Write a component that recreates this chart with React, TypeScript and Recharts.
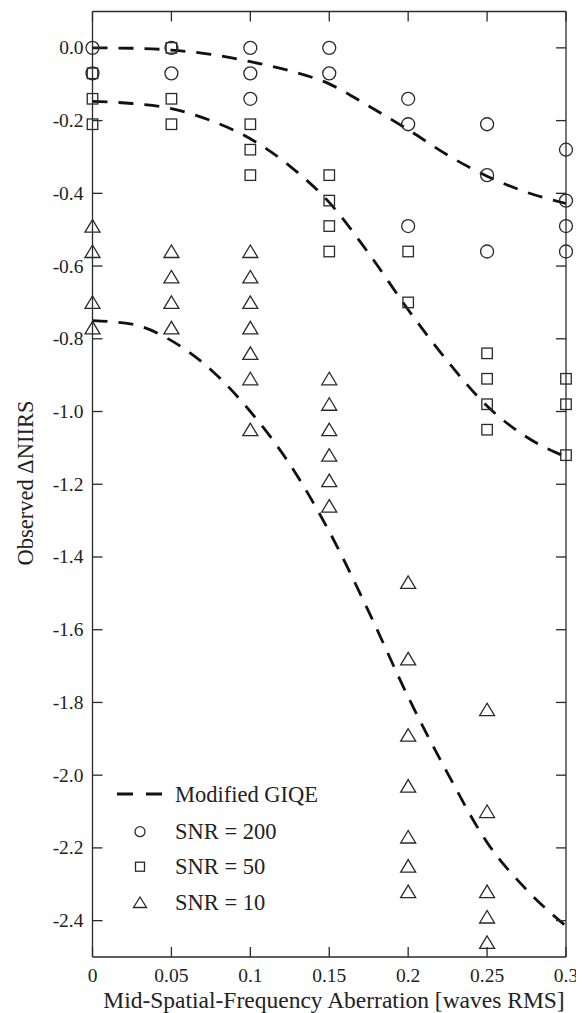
import React from "react";
import {
  ComposedChart,
  XAxis,
  YAxis,
  Scatter,
  Line,
  Legend,
} from "recharts";

// ---------- data ----------
const xTicks = [0, 0.05, 0.1, 0.15, 0.2, 0.25, 0.3];
const xTickLabels = ["0", "0.05", "0.1", "0.15", "0.2", "0.25", "0.3"];
const yTicks = [0, -0.2, -0.4, -0.6, -0.8, -1.0, -1.2, -1.4, -1.6, -1.8, -2.0, -2.2, -2.4];

const snr200Points: [number, number][] = [
  [0, 0], [0, -0.07],
  [0.05, 0], [0.05, -0.07],
  [0.1, 0], [0.1, -0.07], [0.1, -0.14],
  [0.15, 0], [0.15, -0.07],
  [0.2, -0.14], [0.2, -0.21], [0.2, -0.49],
  [0.25, -0.21], [0.25, -0.35], [0.25, -0.56],
  [0.3, -0.28], [0.3, -0.42], [0.3, -0.49], [0.3, -0.56],
];

const snr50Points: [number, number][] = [
  [0, -0.07], [0, -0.14], [0, -0.21],
  [0.05, 0], [0.05, -0.14], [0.05, -0.21],
  [0.1, -0.21], [0.1, -0.28], [0.1, -0.35],
  [0.15, -0.35], [0.15, -0.42], [0.15, -0.49], [0.15, -0.56],
  [0.2, -0.56], [0.2, -0.7],
  [0.25, -0.84], [0.25, -0.91], [0.25, -0.98], [0.25, -1.05],
  [0.3, -0.91], [0.3, -0.98], [0.3, -1.12],
];

const snr10Points: [number, number][] = [
  [0, -0.49], [0, -0.56], [0, -0.7], [0, -0.77],
  [0.05, -0.56], [0.05, -0.63], [0.05, -0.7], [0.05, -0.77],
  [0.1, -0.56], [0.1, -0.63], [0.1, -0.7], [0.1, -0.77], [0.1, -0.84], [0.1, -0.91], [0.1, -1.05],
  [0.15, -0.91], [0.15, -0.98], [0.15, -1.05], [0.15, -1.12], [0.15, -1.19], [0.15, -1.26],
  [0.2, -1.47], [0.2, -1.68], [0.2, -1.89], [0.2, -2.03], [0.2, -2.17], [0.2, -2.25], [0.2, -2.32],
  [0.25, -1.82], [0.25, -2.1], [0.25, -2.32], [0.25, -2.39], [0.25, -2.46],
];

const curveX = [0, 0.025, 0.05, 0.075, 0.1, 0.125, 0.15, 0.175, 0.2, 0.225, 0.25, 0.275, 0.3];
const giqe200 = [0, -0.001, -0.006, -0.018, -0.038, -0.063, -0.099, -0.16, -0.225, -0.295, -0.353, -0.397, -0.428];
const giqe50 = [-0.147, -0.153, -0.167, -0.2, -0.25, -0.325, -0.425, -0.565, -0.72, -0.862, -0.985, -1.07, -1.125];
const giqe10 = [-0.75, -0.76, -0.805, -0.885, -1.0, -1.145, -1.33, -1.55, -1.785, -1.995, -2.185, -2.315, -2.415];

const legendLabels = ["Modified GIQE", "SNR = 200", "SNR = 50", "SNR = 10"];

// ---------- helpers ----------
const toXY = (pts: [number, number][]) => pts.map(([x, y]) => ({ x, y }));
const toCurve = (ys: number[]) => curveX.map((x, i) => ({ x, y: ys[i] }));

const FONT = "'Liberation Serif', 'Times New Roman', serif";
const INK = "#2a2a2a";
const TICK_LEN = 10;

const CircleShape = (p: any) => (
  <circle cx={p.cx} cy={p.cy} r={6.5} fill="none" stroke={INK} strokeWidth={1.3} />
);
const SquareShape = (p: any) => (
  <rect x={p.cx - 5.25} y={p.cy - 5.25} width={10.5} height={10.5} fill="none" stroke={INK} strokeWidth={1.3} />
);
const TriangleShape = (p: any) => (
  <polygon
    points={`${p.cx},${p.cy - 6.5} ${p.cx - 7.5},${p.cy + 6} ${p.cx + 7.5},${p.cy + 6}`}
    fill="none"
    stroke={INK}
    strokeWidth={1.3}
  />
);

const LeftTick = (p: any) => (
  <g>
    <line x1={p.x} y1={p.y} x2={p.x + TICK_LEN} y2={p.y} stroke={INK} strokeWidth={1.3} />
    <text x={p.x - 9} y={p.y + 6.5} textAnchor="end" fontFamily={FONT} fontSize={19.5} fill="#222">
      {Number(p.payload.value).toFixed(1)}
    </text>
  </g>
);
const RightTick = (p: any) => (
  <line x1={p.x} y1={p.y} x2={p.x - TICK_LEN} y2={p.y} stroke={INK} strokeWidth={1.3} />
);
const BottomTick = (p: any) => {
  const idx = xTicks.findIndex((t) => Math.abs(t - p.payload.value) < 1e-9);
  return (
    <g>
      <line x1={p.x} y1={p.y} x2={p.x} y2={p.y - TICK_LEN} stroke={INK} strokeWidth={1.3} />
      <text x={p.x} y={p.y + 24.5} textAnchor="middle" fontFamily={FONT} fontSize={19.5} fill="#222">
        {idx >= 0 ? xTickLabels[idx] : String(p.payload.value)}
      </text>
    </g>
  );
};
const TopTick = (p: any) => (
  <line x1={p.x} y1={p.y} x2={p.x} y2={p.y + TICK_LEN} stroke={INK} strokeWidth={1.3} />
);

const LegendContent = () => (
  <svg width={260} height={140} style={{ display: "block", overflow: "visible" }}>
    <line x1={9} y1={14} x2={54} y2={14} stroke="#111" strokeWidth={2.8} strokeDasharray="16 13" />
    <text x={67} y={21.5} fontFamily={FONT} fontSize={22.5} fill="#222">{legendLabels[0]}</text>
    <circle cx={32} cy={51.7} r={5} fill="none" stroke={INK} strokeWidth={1.3} />
    <text x={67} y={59} fontFamily={FONT} fontSize={22.5} fill="#222">{legendLabels[1]}</text>
    <rect x={27.5} y={82.2} width={9} height={9} fill="none" stroke={INK} strokeWidth={1.3} />
    <text x={67} y={94} fontFamily={FONT} fontSize={22.5} fill="#222">{legendLabels[2]}</text>
    <polygon points="32,117 25.5,127.5 38.5,127.5" fill="none" stroke={INK} strokeWidth={1.3} />
    <text x={67} y={130} fontFamily={FONT} fontSize={22.5} fill="#222">{legendLabels[3]}</text>
  </svg>
);

const axisLine = { stroke: INK, strokeWidth: 1.3 };
const dashStyle = { stroke: "#111", strokeWidth: 2.8, strokeDasharray: "15 11" };

export default function App() {
  return (
    <ComposedChart
      width={576}
      height={1005}
      margin={{ top: 0, right: 0, bottom: 0, left: 0 }}
    >
      <XAxis
        xAxisId="b"
        dataKey="x"
        type="number"
        orientation="bottom"
        domain={[0, 0.3]}
        ticks={xTicks}
        height={56}
        tickSize={0}
        tickMargin={0}
        tickLine={false}
        axisLine={axisLine}
        tick={<BottomTick />}
        interval={0}
        label={() => (
          <text x={326} y={1000} textAnchor="middle" fontFamily={FONT} fontSize={23.5} fill="#222">
            Mid-Spatial-Frequency Aberration [waves RMS]
          </text>
        )}
      />
      <XAxis
        xAxisId="t"
        dataKey="x"
        type="number"
        orientation="top"
        domain={[0, 0.3]}
        ticks={xTicks}
        allowDataOverflow
        height={3.5}
        tickSize={0}
        tickMargin={0}
        tickLine={false}
        axisLine={axisLine}
        tick={<TopTick />}
        interval={0}
      />
      <YAxis
        yAxisId="l"
        dataKey="y"
        type="number"
        orientation="left"
        domain={[-2.5, 0.1]}
        ticks={yTicks}
        width={84.5}
        tickSize={0}
        tickMargin={0}
        tickLine={false}
        axisLine={axisLine}
        tick={<LeftTick />}
        interval={0}
        label={() => (
          <text
            x={25}
            y={475}
            transform="rotate(-90 25 475)"
            textAnchor="middle"
            fontFamily={FONT}
            fontSize={22.5}
            fill="#222"
          >
            Observed ΔNIIRS
          </text>
        )}
      />
      <YAxis
        yAxisId="r"
        dataKey="y"
        type="number"
        orientation="right"
        domain={[-2.5, 0.1]}
        ticks={yTicks}
        allowDataOverflow
        width={18}
        tickSize={0}
        tickMargin={0}
        tickLine={false}
        axisLine={axisLine}
        tick={<RightTick />}
        interval={0}
      />

      <Line
        xAxisId="b"
        yAxisId="l"
        data={toCurve(giqe200)}
        dataKey="y"
        type="monotone"
        dot={false}
        activeDot={false}
        {...dashStyle}
        isAnimationActive={false}
      />
      <Line
        xAxisId="b"
        yAxisId="l"
        data={toCurve(giqe50)}
        dataKey="y"
        type="monotone"
        dot={false}
        activeDot={false}
        {...dashStyle}
        isAnimationActive={false}
      />
      <Line
        xAxisId="b"
        yAxisId="l"
        data={toCurve(giqe10)}
        dataKey="y"
        type="monotone"
        dot={false}
        activeDot={false}
        {...dashStyle}
        isAnimationActive={false}
      />

      <Scatter xAxisId="b" yAxisId="l" data={toXY(snr200Points)} dataKey="y" shape={CircleShape} isAnimationActive={false} />
      <Scatter xAxisId="b" yAxisId="l" data={toXY(snr50Points)} dataKey="y" shape={SquareShape} isAnimationActive={false} />
      <Scatter xAxisId="b" yAxisId="l" data={toXY(snr10Points)} dataKey="y" shape={TriangleShape} isAnimationActive={false} />

      <Legend
        layout="vertical"
        align="center"
        verticalAlign="middle"
        content={<LegendContent />}
        wrapperStyle={{ position: "absolute", left: 100, top: 772, width: 260, height: 140 }}
      />
    </ComposedChart>
  );
}
